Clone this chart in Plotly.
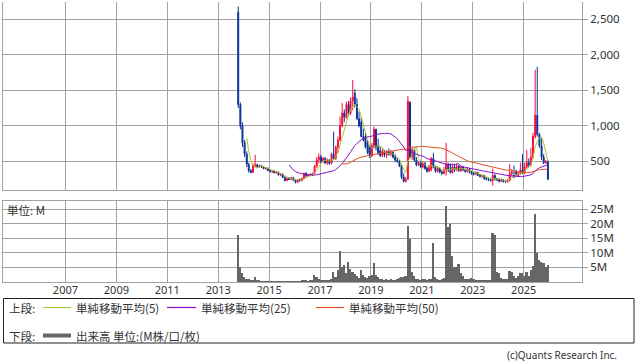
import pandas as pd
import plotly.graph_objects as go

# ---------------- data (monthly candles, Oct 2013 - Dec 2025) ----------------
start_month = "2013-10-01"

opens = [
    2600, 1300, 1000,                                                   # 2013 Oct-Dec
    760, 600, 460, 370, 345, 440, 450, 425, 440, 415, 400, 405,         # 2014
    370, 355, 360, 340, 350, 310, 320, 275, 230, 260, 245, 270,         # 2015
    235, 205, 240, 225, 260, 330, 295, 310, 300, 330, 430, 520,         # 2016
    560, 500, 540, 480, 520, 470, 600, 540, 700, 800, 1000, 1180,       # 2017
    1120, 1300, 1180, 1350, 1460, 1300, 1100, 1050, 850, 850, 780, 700, # 2018
    580, 700, 950, 720, 650, 580, 640, 590, 640, 600, 630, 560,         # 2019
    520, 500, 430, 280, 215, 250, 1330, 560, 660, 520, 450, 480,        # 2020
    420, 470, 400, 360, 380, 540, 420, 360, 400, 350, 330, 370,         # 2021
    460, 380, 340, 420, 380, 430, 370, 420, 380, 360, 390, 350,         # 2022
    330, 320, 340, 300, 290, 300, 260, 250, 240, 230, 300, 250,         # 2023
    240, 220, 240, 215, 210, 230, 330, 300, 360, 300, 330, 380,         # 2024
    340, 420, 480, 450, 560, 850, 1150, 880, 720, 560, 480, 490,        # 2025
]
highs = [
    2680, 1330, 1050,
    800, 640, 480, 390, 470, 590, 465, 455, 450, 425, 420, 410,
    385, 370, 372, 365, 355, 330, 325, 285, 270, 275, 280, 275,
    245, 250, 260, 270, 340, 345, 320, 330, 340, 450, 560, 610,
    590, 560, 560, 540, 530, 620, 917, 720, 850, 1130, 1320, 1230,
    1340, 1350, 1400, 1645, 1515, 1390, 1200, 1125, 960, 900, 800, 720,
    760, 990, 960, 820, 700, 680, 660, 660, 680, 660, 640, 600,
    550, 520, 450, 330, 280, 1420, 1345, 700, 680, 560, 500, 500,
    500, 490, 420, 450, 560, 620, 440, 420, 410, 380, 420, 760,
    480, 470, 470, 460, 470, 450, 440, 430, 400, 410, 400, 370,
    350, 360, 350, 320, 320, 310, 280, 270, 260, 400, 320, 270,
    260, 260, 250, 240, 250, 460, 380, 440, 380, 360, 480, 600,
    480, 660, 540, 690, 900, 1790, 1830, 900, 840, 600, 520, 520,
]
lows = [
    1250, 950, 700,
    560, 420, 340, 330, 335, 420, 410, 410, 405, 385, 380, 360,
    345, 335, 330, 325, 300, 290, 265, 215, 220, 235, 240, 225,
    190, 195, 215, 220, 250, 280, 285, 290, 295, 320, 410, 470,
    470, 480, 460, 450, 450, 460, 520, 520, 620, 780, 980, 1050,
    1100, 1130, 1150, 1220, 1260, 1080, 980, 840, 780, 680, 600, 545,
    560, 680, 650, 590, 560, 560, 560, 545, 580, 570, 540, 490,
    480, 420, 250, 200, 205, 240, 540, 520, 500, 430, 430, 410,
    400, 380, 340, 350, 360, 400, 340, 340, 330, 310, 320, 300,
    350, 330, 330, 350, 360, 350, 350, 360, 340, 340, 330, 310,
    300, 305, 290, 270, 270, 240, 230, 220, 210, 160, 230, 220,
    200, 210, 200, 195, 200, 220, 290, 260, 280, 290, 310, 320,
    320, 400, 420, 430, 540, 820, 850, 690, 520, 460, 460, 235,
]
closes = [
    1300, 1000, 760,
    600, 460, 370, 345, 440, 450, 425, 440, 415, 400, 405, 370,
    355, 360, 340, 350, 310, 320, 275, 230, 260, 245, 270, 235,
    205, 240, 225, 260, 330, 295, 310, 300, 330, 430, 520, 560,
    500, 540, 480, 520, 470, 600, 540, 700, 800, 1000, 1180, 1120,
    1300, 1180, 1350, 1400, 1300, 1100, 1000, 850, 800, 700, 620, 580,
    720, 950, 700, 620, 580, 640, 590, 640, 600, 630, 560, 520,
    500, 430, 280, 220, 250, 1350, 560, 660, 520, 450, 480, 420,
    470, 400, 360, 430, 540, 420, 360, 400, 350, 330, 380, 460,
    380, 340, 420, 380, 430, 370, 420, 380, 360, 390, 350, 330,
    320, 340, 300, 290, 300, 260, 250, 240, 230, 300, 250, 240,
    220, 240, 215, 210, 230, 330, 350, 300, 320, 330, 380, 340,
    420, 480, 450, 560, 850, 1150, 880, 720, 560, 480, 490, 250,
]
volumes_m = [
    16.0, 5.0, 3.0,
    1.8, 1.2, 1.0, 0.6, 0.8, 1.8, 0.6, 0.4, 0.3, 0.3, 0.3, 0.3,
    0.2, 0.2, 0.2, 0.2, 0.2, 0.2, 0.2, 0.3, 0.2, 0.2, 0.2, 0.2,
    0.3, 0.3, 0.2, 0.4, 0.8, 0.5, 0.3, 0.4, 0.6, 2.5, 1.6, 1.2,
    0.8, 0.6, 0.5, 0.6, 0.5, 1.2, 3.3, 1.8, 4.0, 10.5, 5.3, 6.0,
    3.2, 6.8, 4.5, 3.5, 2.8, 2.0, 1.5, 4.2, 2.5, 1.8, 1.5, 2.0,
    2.5, 6.5, 2.5, 1.8, 1.2, 1.0, 0.8, 1.0, 0.8, 1.0, 0.7, 0.8,
    0.9, 1.5, 1.8, 1.7, 2.0, 19.3, 14.8, 3.6, 2.0, 1.2, 0.9, 0.8,
    1.0, 0.9, 0.8, 0.9, 1.0, 13.3, 1.8, 1.0, 0.8, 0.9, 1.5, 26.0,
    19.0, 19.8, 9.0, 5.3, 5.0, 6.2, 3.0, 2.0, 1.0, 1.0, 1.2, 1.5,
    1.0, 0.8, 0.7, 0.7, 0.8, 0.6, 0.6, 0.7, 0.8, 17.0, 16.0, 3.5,
    3.0, 1.5, 1.2, 1.0, 1.2, 3.8, 3.5, 2.0, 1.5, 2.2, 3.0, 3.0,
    2.2, 3.5, 2.0, 4.0, 5.5, 23.5, 10.0, 7.5, 6.8, 6.5, 5.0, 5.8,
]

year_ticks = ["2007", "2009", "2011", "2013", "2015", "2017", "2019", "2021", "2023", "2025"]
price_ticks = [500, 1000, 1500, 2000, 2500]
price_tick_text = ["500", "1,000", "1,500", "2,000", "2,500"]
vol_ticks = [5, 10, 15, 20, 25]
vol_tick_text = ["5M", "10M", "15M", "20M", "25M"]

ma_periods = [5, 25, 50]
ma_colors = ["#a4c832", "#8b10c8", "#e0521e"]
ma_labels = ["単純移動平均(5)", "単純移動平均(25)", "単純移動平均(50)"]

# ---------------- figure ----------------
dates = pd.date_range(start_month, periods=len(closes), freq="MS") + pd.Timedelta(days=14)
close_s = pd.Series(closes, index=dates)

W, H = 638, 362
ML, MR, MT, MB = 3, 56, 2, 80
PW, PH = W - ML - MR, H - MT - MB


def fx(px):
    return (px - ML) / PW


def fy(py):
    return (H - MB - py) / PH


GRID = "#a3a3a3"
TXT = "#333333"
FONT = "Noto Sans"
CJK = "Noto Sans CJK JP"

fig = go.Figure()
fig.add_trace(go.Candlestick(
    x=dates, open=opens, high=highs, low=lows, close=closes,
    increasing=dict(line=dict(color="#ff0a3c", width=1), fillcolor="#ff0a3c"),
    decreasing=dict(line=dict(color="#0a3296", width=1), fillcolor="#0a3296"),
    whiskerwidth=0, xaxis="x", yaxis="y", showlegend=False, hoverinfo="skip",
))
for p, c in zip(ma_periods, ma_colors):
    ma = close_s.rolling(p).mean()
    fig.add_trace(go.Scatter(x=dates, y=ma.values, mode="lines",
                             line=dict(color=c, width=1), xaxis="x", yaxis="y",
                             showlegend=False, hoverinfo="skip"))
fig.add_trace(go.Bar(x=dates, y=volumes_m, marker=dict(color="#666666", line=dict(width=0)),
                     width=24 * 86400000, xaxis="x2", yaxis="y2", showlegend=False,
                     hoverinfo="skip"))

xr = ["2004-07-19", "2027-04-18"]
tickvals = [f"{y}-01-01" for y in year_ticks]
common_x = dict(type="date", range=xr, tickvals=tickvals, ticktext=year_ticks,
                showgrid=True, gridcolor=GRID, gridwidth=1, zeroline=False,
                showline=True, linecolor=GRID, linewidth=1, ticks="",
                fixedrange=True)

fig.update_layout(
    width=W, height=H,
    margin=dict(l=ML, r=MR, t=MT, b=MB, pad=0),
    paper_bgcolor="white", plot_bgcolor="white",
    bargap=0,
    xaxis=dict(domain=[0, 1], anchor="y", showticklabels=False, mirror=False,
               rangeslider=dict(visible=False), **common_x),
    xaxis2=dict(domain=[0, 1], anchor="y2", matches="x", showticklabels=True, mirror=True,
                ticklabelstandoff=-2,
                tickfont=dict(family=FONT, size=11, color=TXT), **common_x),
    yaxis=dict(domain=[fy(190), 1], range=[96, 2744], side="right",
               tickvals=price_ticks, ticktext=price_tick_text,
               ticks="outside", ticklen=5, tickcolor=GRID,
               tickfont=dict(family=FONT, size=11.5, color=TXT),
               showgrid=True, gridcolor=GRID, zeroline=False,
               showline=True, mirror=True, linecolor=GRID, fixedrange=True),
    yaxis2=dict(domain=[0, fy(201)], range=[0, 27.84], side="right",
                tickvals=vol_ticks, ticktext=vol_tick_text,
                ticks="outside", ticklen=5, tickcolor=GRID,
                tickfont=dict(family=FONT, size=11.5, color=TXT),
                showgrid=True, gridcolor=GRID, zeroline=False,
                showline=True, mirror=True, linecolor=GRID, fixedrange=True),
)

ann = []
shapes = []


def text(x, y, s, anchor="left", size=11.5, family=CJK):
    ann.append(dict(x=fx(x), y=fy(y), xref="paper", yref="paper", text=s,
                    showarrow=False, xanchor=anchor, yanchor="middle",
                    font=dict(family=family, size=size, color=TXT)))


def hline(x0, x1, y, color, width):
    shapes.append(dict(type="line", xref="paper", yref="paper",
                       x0=fx(x0), x1=fx(x1), y0=fy(y), y1=fy(y),
                       line=dict(color=color, width=width)))


text(5, 210, "単位: M")

# legend box
ROW1, ROW2 = 307.5, 335.5
shapes.append(dict(type="rect", xref="paper", yref="paper",
                   x0=fx(3.5), x1=fx(634), y0=fy(298.5), y1=fy(343),
                   line=dict(color="#222222", width=1), fillcolor="rgba(0,0,0,0)"))
text(7, ROW1, "上段:")
leg_x = [(43, 71, 74), (167, 196, 199), (316, 344, 347)]
for (a, b, t), c, lab in zip(leg_x, ma_colors, ma_labels):
    hline(a, b, ROW1, c, 1.2)
    text(t, ROW1, lab)
text(7, ROW2, "下段:")
hline(43, 71, ROW2, "#666666", 4)
text(74, ROW2, "出来高 単位:(M株/口/枚)")

text(619, 354.5, "(c)Quants Research Inc.", anchor="right", size=10, family=FONT)

fig.update_layout(annotations=ann, shapes=shapes)
fig.write_html("out.html")
